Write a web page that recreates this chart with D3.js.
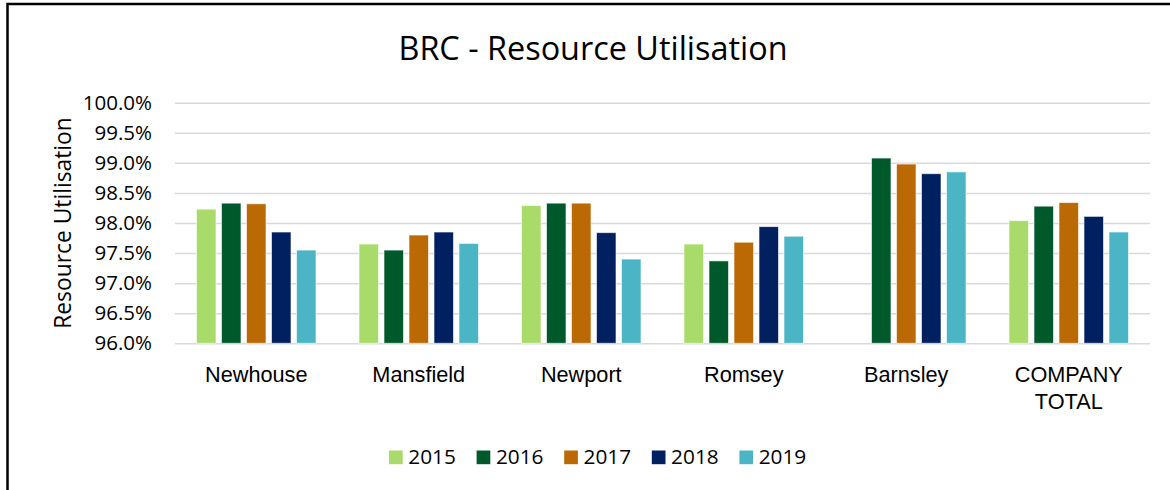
<!DOCTYPE html>
<html>
<head>
<meta charset="utf-8">
<script src="https://cdn.jsdelivr.net/npm/d3@7"></script>
<style>
  body { margin: 0; background: #fff; }
  svg { display: block; font-family: "Open Sans", sans-serif; }
</style>
</head>
<body>
<div id="chart"></div>
<script>
// sites on the x axis (COMPANY TOTAL wraps on two lines)
var sites = ['Newhouse', 'Mansfield', 'Newport', 'Romsey', 'Barnsley', 'COMPANY TOTAL'];
var years = ['2015', '2016', '2017', '2018', '2019'];

// utilisation per year, one value per site (null = no bar)
var util2015 = [0.9823, 0.9765, 0.9829, 0.9765, null, 0.9804];
var util2016 = [0.9833, 0.9755, 0.9833, 0.9737, 0.9908, 0.9828];
var util2017 = [0.9832, 0.9780, 0.9833, 0.9768, 0.9898, 0.9834];
var util2018 = [0.9785, 0.9785, 0.9784, 0.9794, 0.9882, 0.9811];
var util2019 = [0.9755, 0.9766, 0.9740, 0.9778, 0.9885, 0.9785];

var yTicks = [0.96, 0.965, 0.97, 0.975, 0.98, 0.985, 0.99, 0.995, 1.0];

var seriesColors = ['#a9db6a', '#00592a', '#ba6905', '#00205f', '#4bb5c6'];

var width = 1170;
var height = 490;
var plot = { left: 175, right: 1150, top: 102.7, bottom: 343.3 };

var seriesData = [util2015, util2016, util2017, util2018, util2019];

var svg = d3.select('#chart').append('svg')
    .attr('width', width)
    .attr('height', height);

// frame round the chart (only top and left show in the picture)
svg.append('path')
    .attr('d', 'M7.5,' + height + 'V4H' + width)
    .attr('fill', 'none')
    .attr('stroke', '#000')
    .attr('stroke-width', 2.5);

// scales
var x0 = d3.scaleBand()
    .domain(sites)
    .range([plot.left, plot.right]);

var x1 = d3.scaleBand()
    .domain(years)
    .range([0, x0.bandwidth()])
    .paddingInner(0.22)
    .paddingOuter(0.86);

var y = d3.scaleLinear()
    .domain([0.96, 1.0])
    .range([plot.bottom, plot.top]);

var color = d3.scaleOrdinal().domain(years).range(seriesColors);

// gridlines + y tick labels
var yAxis = d3.axisLeft(y)
    .tickValues(yTicks)
    .tickFormat(d3.format('.1%'))
    .tickSize(-(plot.right - plot.left))
    .tickPadding(23);

var gy = svg.append('g')
    .attr('transform', 'translate(' + plot.left + ',0)')
    .call(yAxis);

gy.select('.domain').remove();
gy.selectAll('line')
    .attr('stroke', '#d9d9d9')
    .attr('stroke-width', 1.5);
gy.selectAll('text')
    .attr('fill', '#000')
    .style('font-size', '20.5px')
    .style('font-family', '"Open Sans", sans-serif');

// bars
var rows = [];
sites.forEach(function(site, i) {
    years.forEach(function(yr, j) {
        if (seriesData[j][i] !== null) {
            rows.push({ site: site, year: yr, value: seriesData[j][i] });
        }
    });
});

svg.append('g').selectAll('rect')
    .data(rows)
    .enter().append('rect')
    .attr('x', function(d) { return x0(d.site) + x1(d.year); })
    .attr('y', function(d) { return y(d.value); })
    .attr('width', x1.bandwidth())
    .attr('height', function(d) { return y(0.96) - y(d.value); })
    .attr('fill', function(d) { return color(d.year); })
    .attr('stroke', '#fff')
    .attr('stroke-opacity', 0.6)
    .attr('stroke-width', 1);

// x axis labels
var xAxis = d3.axisBottom(x0).tickSize(0).tickPadding(0);
var gx = svg.append('g')
    .attr('transform', 'translate(0,' + plot.bottom + ')')
    .call(xAxis);
gx.select('.domain').remove();
gx.selectAll('text').remove();

gx.selectAll('.tick').each(function(d) {
    var words = d === 'COMPANY TOTAL' ? ['COMPANY', 'TOTAL'] : [d];
    var t = d3.select(this).append('text')
        .attr('fill', '#000')
        .attr('text-anchor', 'middle')
        .style('font-size', '21.7px');
    words.forEach(function(w, k) {
        t.append('tspan')
            .attr('x', 0)
            .attr('y', 38.5 + k * 27.7)
            .text(w);
    });
});

// title
svg.append('text')
    .attr('x', 593)
    .attr('y', 60)
    .attr('text-anchor', 'middle')
    .style('font-size', '32.4px')
    .text('BRC - Resource Utilisation');

// y axis title
svg.append('text')
    .attr('transform', 'translate(71,' + (plot.top + plot.bottom) / 2 + ') rotate(-90)')
    .attr('text-anchor', 'middle')
    .style('font-size', '22.8px')
    .text('Resource Utilisation');

// legend
var legend = svg.append('g')
    .attr('transform', 'translate(389,450.5)');

var item = legend.selectAll('g')
    .data(years)
    .enter().append('g')
    .attr('transform', function(d, i) { return 'translate(' + i * 87.6 + ',0)'; });

item.append('rect')
    .attr('width', 13.7)
    .attr('height', 13.7)
    .attr('fill', function(d) { return color(d); });

item.append('text')
    .attr('x', 19.3)
    .attr('y', 13.8)
    .style('font-size', '20.8px')
    .text(function(d) { return d; });
</script>
</body>
</html>
